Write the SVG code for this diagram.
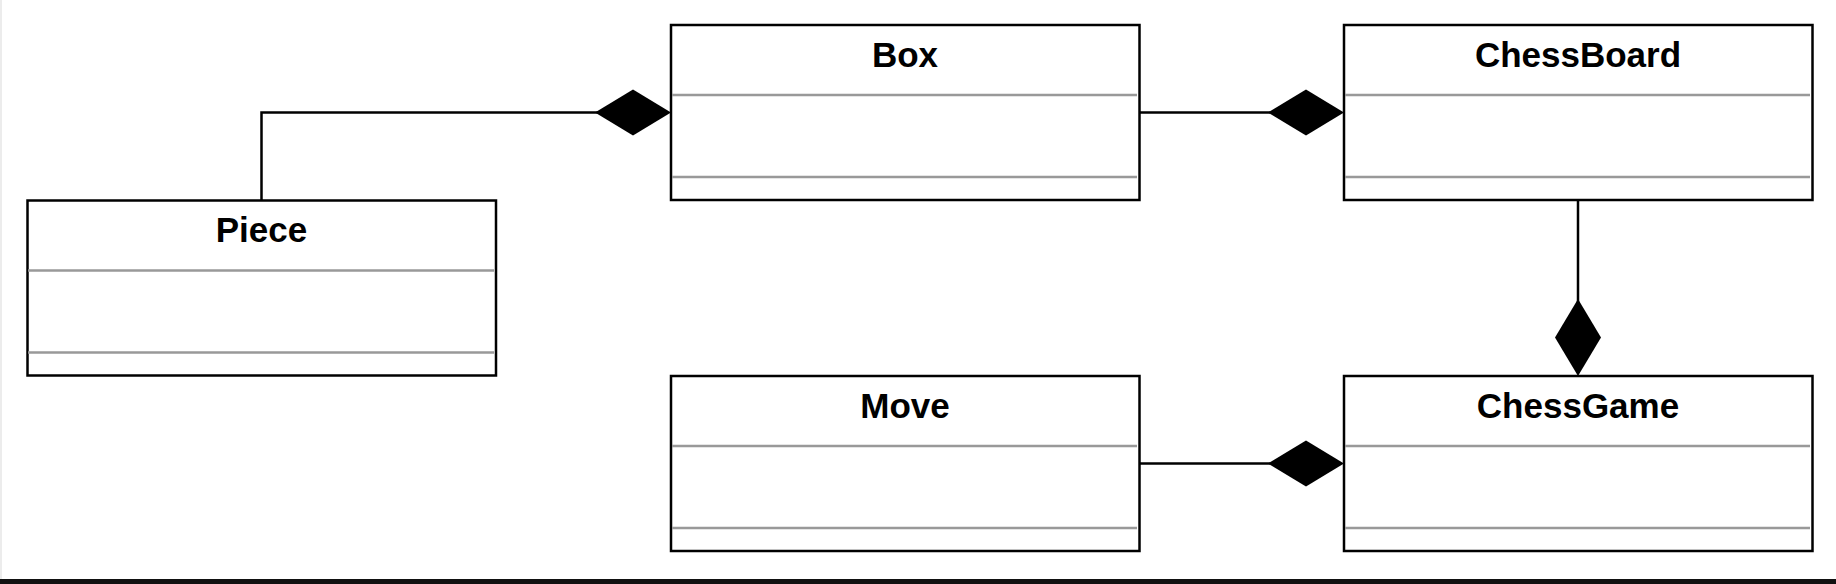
<svg xmlns="http://www.w3.org/2000/svg" width="1836" height="584" viewBox="0 0 1836 584">
<style>
.box{fill:#fff;stroke:#000;stroke-width:2.5}
.sep{stroke:#999;stroke-width:2.5}
.name{font-family:"Liberation Sans",Arial,sans-serif;font-weight:bold;font-size:35px;fill:#000;text-anchor:middle}
.conn{fill:none;stroke:#000;stroke-width:2.5}
.dia{fill:#000;stroke:none}
</style>
<rect x="0" y="0" width="1836" height="584" fill="#fff"/>
<rect x="0" y="0" width="2" height="579" fill="#ececec"/>
<rect x="0" y="579" width="1836" height="5" fill="#111"/>
<g id="connectors">
<polyline class="conn" points="261.5,200 261.5,112.5 600,112.5"/>
<polygon class="dia" points="595,112.5 633,89.5 671,112.5 633,135.5"/>
<line class="conn" x1="1139" y1="112.5" x2="1270" y2="112.5"/>
<polygon class="dia" points="1268,112.5 1306,89.5 1344,112.5 1306,135.5"/>
<line class="conn" x1="1578" y1="200" x2="1578" y2="305"/>
<polygon class="dia" points="1578,299 1601,337.5 1578,376 1555,337.5"/>
<line class="conn" x1="1139" y1="463.5" x2="1270" y2="463.5"/>
<polygon class="dia" points="1268,463.5 1306,440.5 1344,463.5 1306,486.5"/>
</g>
<g id="piece">
<rect class="box" x="27.5" y="200.5" width="468.5" height="175"/>
<line class="sep" x1="28" y1="270.5" x2="494" y2="270.5"/>
<line class="sep" x1="28" y1="352.5" x2="494" y2="352.5"/>
<text class="name" x="261.5" y="242">Piece</text>
</g>
<g id="box">
<rect class="box" x="671" y="25" width="468.5" height="175"/>
<line class="sep" x1="672" y1="95" x2="1137" y2="95"/>
<line class="sep" x1="672" y1="177" x2="1137" y2="177"/>
<text class="name" x="905" y="66.5">Box</text>
</g>
<g id="chessboard">
<rect class="box" x="1344" y="25" width="468.5" height="175"/>
<line class="sep" x1="1345" y1="95" x2="1810" y2="95"/>
<line class="sep" x1="1345" y1="177" x2="1810" y2="177"/>
<text class="name" x="1578" y="66.5">ChessBoard</text>
</g>
<g id="move">
<rect class="box" x="671" y="376" width="468.5" height="175"/>
<line class="sep" x1="672" y1="446" x2="1137" y2="446"/>
<line class="sep" x1="672" y1="528" x2="1137" y2="528"/>
<text class="name" x="905" y="417.5">Move</text>
</g>
<g id="chessgame">
<rect class="box" x="1344" y="376" width="468.5" height="175"/>
<line class="sep" x1="1345" y1="446" x2="1810" y2="446"/>
<line class="sep" x1="1345" y1="528" x2="1810" y2="528"/>
<text class="name" x="1578" y="417.5">ChessGame</text>
</g>
</svg>
